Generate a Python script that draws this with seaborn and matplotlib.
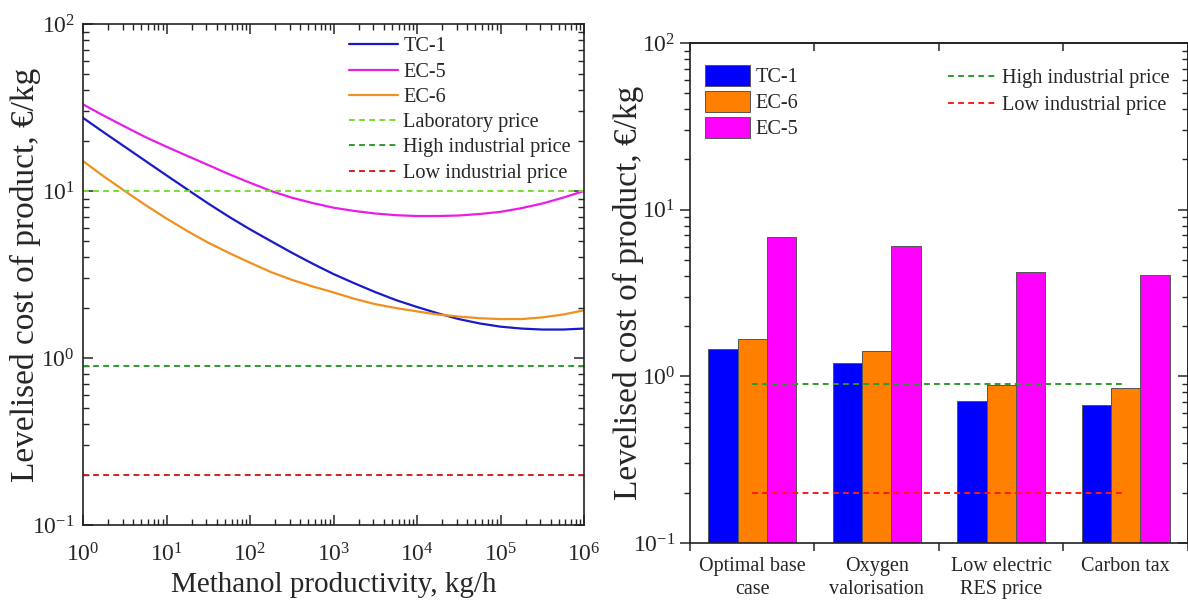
import numpy as np
import pandas as pd
import matplotlib
matplotlib.use('Agg')
import matplotlib.pyplot as plt
import seaborn as sns
from matplotlib.ticker import LogLocator, NullFormatter, FixedLocator

# left panel: cost vs productivity (quarter-decade steps)
productivity = [1, 1.78, 3.16, 5.62, 10, 17.8, 31.6, 56.2, 100, 178, 316, 562,
                1e3, 1.78e3, 3.16e3, 5.62e3, 1e4, 1.78e4, 3.16e4, 5.62e4,
                1e5, 1.78e5, 3.16e5, 5.62e5, 1e6]
cost_tc1 = [27.4, 22.4, 18.4, 15.1, 12.4, 10.2, 8.41, 7.0, 5.89, 5.01, 4.27, 3.67,
            3.18, 2.80, 2.48, 2.22, 2.02, 1.85, 1.71, 1.61, 1.54, 1.50, 1.48, 1.48, 1.50]
cost_ec5 = [33.0, 28.2, 24.3, 21.0, 18.4, 16.2, 14.3, 12.6, 11.2, 10.0, 9.12, 8.47,
            7.94, 7.59, 7.33, 7.16, 7.08, 7.08, 7.13, 7.28, 7.50, 7.89, 8.41, 9.12, 10.0]
cost_ec6 = [15.1, 12.2, 10.0, 8.22, 6.84, 5.75, 4.90, 4.25, 3.72, 3.27, 2.94, 2.68,
            2.47, 2.26, 2.10, 1.99, 1.90, 1.82, 1.77, 1.73, 1.71, 1.71, 1.75, 1.82, 1.93]
decades = [1, 10, 100, 1e3, 1e4, 1e5, 1e6]

lab_price = 10.0
high_price = 0.9
low_price = 0.2

# right panel: scenarios
cases = ['Optimal base\ncase', 'Oxygen\nvalorisation', 'Low electric\nRES price', 'Carbon tax']
bar_tc1 = [1.45, 1.2, 0.71, 0.67]
bar_ec6 = [1.68, 1.42, 0.89, 0.855]
bar_ec5 = [6.9, 6.06, 4.23, 4.08]
techs = ['TC-1', 'EC-6', 'EC-5']

sns.set_theme(style='ticks')
plt.rcParams['font.family'] = ['Liberation Serif', 'DejaVu Serif']
plt.rcParams['mathtext.fontset'] = 'custom'
plt.rcParams['mathtext.rm'] = 'Liberation Serif'
plt.rcParams['axes.linewidth'] = 1.2
plt.rcParams['axes.edgecolor'] = '#222222'

fig = plt.figure(figsize=(11.88, 6.01), dpi=100)
ax1 = fig.add_axes([0.0699, 0.1265, 0.4217, 0.8336])
ax2 = fig.add_axes([0.5808, 0.0965, 0.4192, 0.832])

dash = (0, (3, 2.2))

# ---- left panel
sns.lineplot(x=productivity, y=cost_tc1, ax=ax1, color='#1a1ac8', lw=1.6, label='TC-1')
sns.lineplot(x=productivity, y=cost_ec5, ax=ax1, color='#e81ee8', lw=1.6, label='EC-5')
sns.lineplot(x=productivity, y=cost_ec6, ax=ax1, color='#f0901e', lw=1.6, label='EC-6')
ax1.axhline(lab_price, color='#77dd33', lw=1.4, ls=dash, label='Laboratory price')
ax1.axhline(high_price, color='#2e9a2e', lw=1.4, ls=dash, label='High industrial price')
ax1.axhline(low_price, color='#d42020', lw=1.4, ls=dash, label='Low industrial price')

ax1.set_xscale('log')
ax1.set_yscale('log')
ax1.set_xlim(productivity[0], productivity[-1])
ax1.set_ylim(0.1, 100)
ax1.xaxis.set_major_locator(FixedLocator(decades))
ax1.xaxis.set_minor_locator(LogLocator(base=10, subs=np.arange(2, 10), numticks=20))
ax1.xaxis.set_minor_formatter(NullFormatter())
ax1.yaxis.set_minor_formatter(NullFormatter())
ax1.tick_params(which='both', direction='in', top=True, right=True, labelsize=17)
ax1.tick_params(axis='x', which='both', pad=13)
ax1.tick_params(axis='y', which='both', pad=6)
ax1.tick_params(which='major', length=7, width=1.1)
ax1.tick_params(which='minor', length=4, width=1.0)
ax1.set_xlabel('Methanol productivity, kg/h', fontsize=21, labelpad=4)
ax1.set_ylabel('Levelised cost of product, €/kg', fontsize=24)
ax1.yaxis.set_label_coords(-0.083, 0.5)
ax1.legend(loc='upper right', frameon=False, fontsize=14.6, handlelength=2.4,
           labelspacing=0.3, handletextpad=0.25, borderaxespad=0.25)

# ---- right panel
df = pd.DataFrame({
    'case': cases * 3,
    'tech': ['TC-1'] * 4 + ['EC-6'] * 4 + ['EC-5'] * 4,
    'cost': bar_tc1 + bar_ec6 + bar_ec5,
})
sns.barplot(data=df, x='case', y='cost', hue='tech', hue_order=techs,
            palette=['#0000ff', '#ff8000', '#ff00ff'], saturation=1, width=0.71,
            edgecolor='#555555', linewidth=0.7, ax=ax2, legend=False)
ax2.set_yscale('log')
ax2.set_ylim(0.1, 100)
ax2.set_xlim(-0.5, len(cases) - 0.5)

ax2.hlines(high_price, 0, len(cases) - 1, color='#2e9a2e', lw=1.4, ls=dash,
           label='High industrial price')
ax2.hlines(low_price, 0, len(cases) - 1, color='#ff1a1a', lw=1.4, ls=dash,
           label='Low industrial price')

leg1 = ax2.legend(ax2.containers, techs, loc='upper left', bbox_to_anchor=(-0.006, 0.992),
                  frameon=False, fontsize=14.6, handlelength=2.2, handleheight=1.2,
                  labelspacing=0.18, handletextpad=0.3, borderaxespad=0.5)
ax2.add_artist(leg1)
ax2.legend(loc='upper right', bbox_to_anchor=(1.0, 0.984), frameon=False, fontsize=14.6,
           handlelength=2.4, labelspacing=0.35, handletextpad=0.25, borderaxespad=0.5)

bounds = np.arange(len(cases) + 1) - 0.5
ax2.xaxis.set_major_locator(FixedLocator(bounds))
ax2.xaxis.set_minor_locator(FixedLocator(np.arange(len(cases))))
ax2.set_xticklabels([])
ax2.set_xticklabels(cases, minor=True)
for lbl in ax2.get_xticklabels(minor=True):
    lbl.set_linespacing(1.3)
ax2.tick_params(axis='x', which='minor', length=0, labelsize=14.5, pad=10)
ax2.tick_params(axis='x', which='major', direction='out', length=6, width=1.1)
ax2.yaxis.set_minor_formatter(NullFormatter())
ax2.tick_params(axis='y', which='both', direction='out', labelsize=17)
ax2.tick_params(axis='y', which='major', length=7, width=1.1)
ax2.tick_params(axis='y', which='minor', length=4, width=1.0)
ax2.set_xlabel('')
ax2.set_ylabel('Levelised cost of product, €/kg', fontsize=24)
ax2.yaxis.set_label_coords(-0.092, 0.5)

# inward ticks on the top and right sides
top = ax2.secondary_xaxis('top')
top.set_xticks(bounds)
top.xaxis.set_major_formatter(NullFormatter())
top.tick_params(direction='in', length=6, width=1.1)
right = ax2.secondary_yaxis('right')
right.yaxis.set_major_formatter(NullFormatter())
right.yaxis.set_minor_formatter(NullFormatter())
right.tick_params(which='both', direction='in')
right.tick_params(which='major', length=7, width=1.1)
right.tick_params(which='minor', length=4, width=1.0)

fig.savefig('out.png', dpi=100)
